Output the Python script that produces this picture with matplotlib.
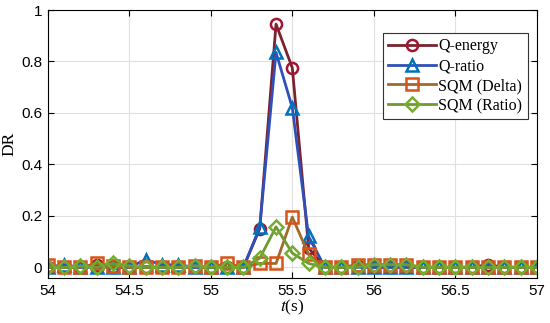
import matplotlib.pyplot as plt
import numpy as np

plt.rcParams["mathtext.fontset"] = "stix"

t = np.round(np.arange(54.0, 57.01, 0.1), 1)

q_energy = [0, 0, 0, 0.01, 0, 0, 0, 0, 0, 0, 0, 0, 0, 0.15, 0.945, 0.775,
            0.075, 0, 0, 0.005, 0, 0, 0, 0, 0, 0, 0, 0.01, 0, 0, 0]
q_ratio = [0, 0.01, 0, 0, 0, 0, 0.03, 0.01, 0.01, 0, 0, 0, 0, 0.155, 0.835, 0.62,
           0.12, 0, 0, 0, 0, 0, 0, 0, 0, 0, 0, 0, 0, 0, 0]
sqm_delta = [0.01, 0, 0, 0.015, 0.005, 0, 0, 0, 0, 0.005, 0, 0.015, 0, 0.015, 0.015, 0.195,
             0.05, 0, 0, 0.01, 0.01, 0.01, 0.01, 0, 0, 0, 0, 0, 0, 0, 0]
sqm_ratio = [0, 0, 0.005, 0, 0.015, 0.005, 0, 0, 0, 0.005, 0, 0, 0, 0.035, 0.157, 0.055,
             0.015, 0, 0, 0, 0.01, 0.01, 0.01, 0, 0, 0, 0, 0, 0, 0, 0]

series = [
    ("Q-energy", q_energy, "o", "#7a2230", "#a2142f"),
    ("Q-ratio", q_ratio, "^", "#3050b8", "#0072bd"),
    ("SQM (Delta)", sqm_delta, "s", "#a06a2a", "#d95319"),
    ("SQM (Ratio)", sqm_ratio, "D", "#6e9a32", "#77ac30"),
]

fig = plt.figure(figsize=(5.5, 3.23), dpi=100)
ax = fig.add_axes([0.087, 0.139, 0.889, 0.830])

for name, vals, mk, lc, mc in series:
    ms = 7.0 if mk == "D" else 8.0
    ax.plot(t, vals, color=lc, lw=2.0, marker=mk, ms=ms, mfc="none",
            mec=mc, mew=1.8, label=name)

ax.set_xlim(54, 57)
ax.set_ylim(-0.042, 1)
ax.set_xticks([54, 54.5, 55, 55.5, 56, 56.5, 57])
ax.set_xticklabels(["54", "54.5", "55", "55.5", "56", "56.5", "57"])
ax.set_yticks([0, 0.2, 0.4, 0.6, 0.8, 1])
ax.set_yticklabels(["0", "0.2", "0.4", "0.6", "0.8", "1"])
ax.tick_params(direction="in", top=True, right=True, length=4, width=0.8,
               labelsize=11, pad=4)
for lab in ax.get_xticklabels() + ax.get_yticklabels():
    lab.set_family("Liberation Sans")
ax.grid(True, color="#e0e0e0", lw=0.8)
ax.set_axisbelow(True)
for s in ax.spines.values():
    s.set_linewidth(0.8)

ax.set_ylabel("DR", family="Liberation Serif", fontsize=12.5, labelpad=3)
ax.set_xlabel(r"$t$(s)", family="Liberation Serif", fontsize=12.5, labelpad=0)

leg = ax.legend(loc="upper right", bbox_to_anchor=(0.982, 0.915),
                prop={"family": "Liberation Serif", "size": 11.5},
                handlelength=3.0, handletextpad=0.15, borderpad=0.35,
                labelspacing=0.24, fancybox=False, framealpha=1,
                edgecolor="#333333", borderaxespad=0)
leg.get_frame().set_linewidth(0.8)

fig.savefig("out.png", dpi=100)
